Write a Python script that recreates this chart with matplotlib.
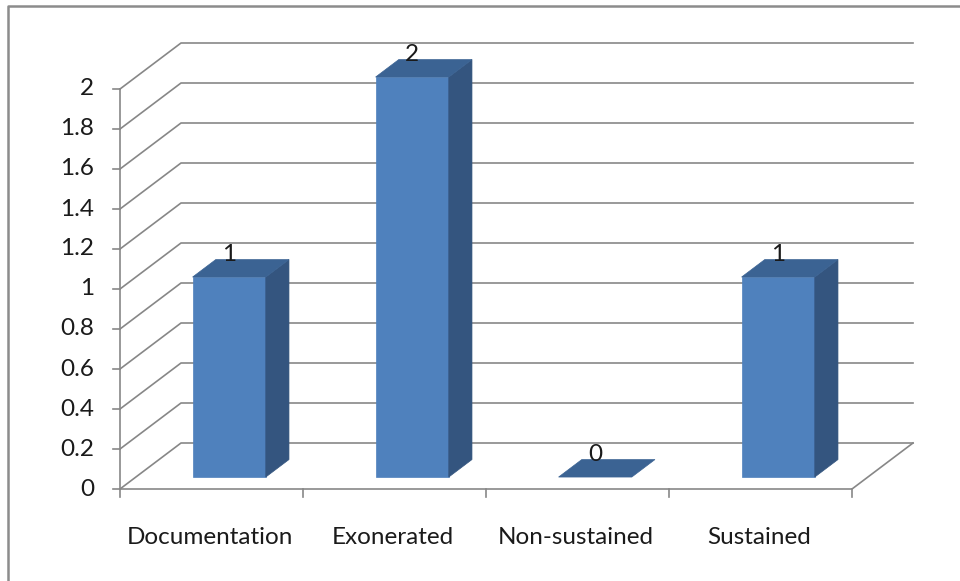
import matplotlib
matplotlib.use("Agg")
import matplotlib.pyplot as plt
from matplotlib.patches import Polygon
from matplotlib.lines import Line2D

# Chart data
categories = ["Documentation", "Exonerated", "Non-sustained", "Sustained"]
values = [1, 2, 0, 1]
y_ticks = [0, 0.2, 0.4, 0.6, 0.8, 1, 1.2, 1.4, 1.6, 1.8, 2]
y_tick_labels = ["0", "0.2", "0.4", "0.6", "0.8", "1", "1.2", "1.4", "1.6", "1.8", "2"]

W, H, DPI = 960, 581, 100
fig = plt.figure(figsize=(W / DPI, H / DPI), dpi=DPI)
fig.patch.set_facecolor("white")
ax = fig.add_axes([0, 0, 1, 1])
ax.axis("off")

# Plot-area mapping: one category = 183 px, one value unit = 200 px
X0, XS = 120, 183.0
Y0, YS = 489, 200.0
ax.set_xlim(-X0 / XS, (W - X0) / XS)
ax.set_ylim((Y0 - H) / YS, Y0 / YS)

# Depth (pseudo 3-D) offset of the back wall
DX = 61 / XS
DY = 46 / YS
n = len(categories)

GRID = "#878787"
TXT = "#1a1a1a"
FRONT = "#4f81bd"
SIDE = "#34557f"
TOP = "#3b6393"
FONT = "Lato"
FS = 17.5


def pt(x, v, d):
    return (x + d * DX, v + d * DY)


# Walls: gridlines on left wall and back wall
for v in y_ticks:
    ax.add_line(Line2D([0, DX, n + DX], [v, v + DY, v + DY], color=GRID, lw=1.2, zorder=1))
# Floor right edge and front axis line
ax.add_line(Line2D([0, n, n + DX], [0, 0, DY], color=GRID, lw=1.2, zorder=1))
# Vertical value axis
ax.add_line(Line2D([0, 0], [0, max(y_ticks)], color=GRID, lw=1.2, zorder=2))
tick_len_x = 7 / XS
for v, lab in zip(y_ticks, y_tick_labels):
    ax.add_line(Line2D([-tick_len_x, 0], [v, v], color=GRID, lw=1.2, zorder=2))
    ax.text(-26 / XS, v, lab, ha="right", va="center", fontsize=FS,
            color=TXT, family=FONT)
tick_len_y = 8 / YS
for i in range(n + 1):
    ax.add_line(Line2D([i, i], [0, -tick_len_y], color=GRID, lw=1.2, zorder=2))

# Category labels
for i, c in enumerate(categories):
    ax.text(i + 0.49, -48 / YS, c, ha="center", va="center", fontsize=FS,
            color=TXT, family=FONT)

# Bars
BW = 0.4
BC = 0.51
D0, D1 = 0.26, 0.64
for i, v in enumerate(values):
    xl = i + BC - BW / 2
    xr = i + BC + BW / 2
    if v > 0:
        front = [pt(xl, 0, D0), pt(xr, 0, D0), pt(xr, v, D0), pt(xl, v, D0)]
        side = [pt(xr, 0, D0), pt(xr, 0, D1), pt(xr, v, D1), pt(xr, v, D0)]
        ax.add_patch(Polygon(front, closed=True, facecolor=FRONT, edgecolor=FRONT, lw=0.5, zorder=3))
        ax.add_patch(Polygon(side, closed=True, facecolor=SIDE, edgecolor=SIDE, lw=0.5, zorder=3))
    top = [pt(xl, v, D0), pt(xr, v, D0), pt(xr, v, D1), pt(xl, v, D1)]
    ax.add_patch(Polygon(top, closed=True, facecolor=TOP, edgecolor=TOP, lw=0.5, zorder=3))
    lx, _ = pt(i + BC, v, D0)
    _, ly_back = pt(i + BC, v, D1)
    ax.text(lx, ly_back - 5 / YS, f"{v:g}", ha="center", va="bottom", fontsize=FS,
            color=TXT, family=FONT, zorder=4)

# Chart-area border (left and top edges)
fig.add_artist(Line2D([8 / W, 8 / W, 1], [0, 1 - 6 / H, 1 - 6 / H],
                      transform=fig.transFigure, color="#8c8c8c", lw=1.8))

fig.savefig("out.png", dpi=DPI, facecolor="white")
